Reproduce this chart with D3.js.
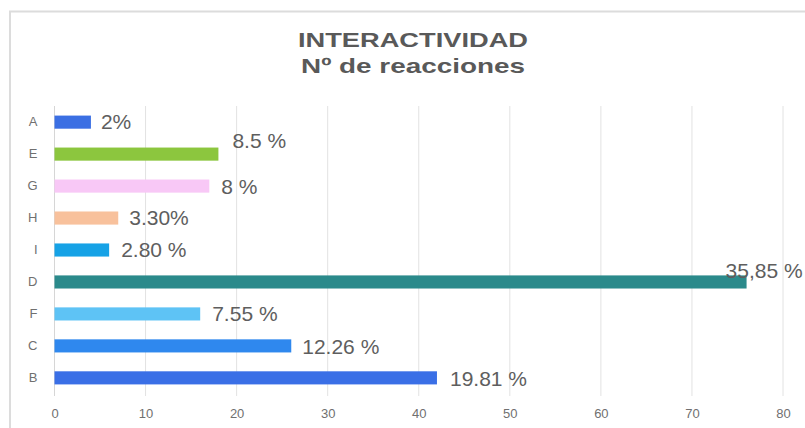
<!DOCTYPE html>
<html>
<head>
<meta charset="utf-8">
<script src="https://cdn.jsdelivr.net/npm/d3@7"></script>
<style>
  body { margin: 0; background: #fff; }
  svg { display: block; font-family: "Liberation Sans", Arial, sans-serif; }
</style>
</head>
<body>
<svg id="chart" width="805" height="428"></svg>
<script>
// data
const categories = ["A", "E", "G", "H", "I", "D", "F", "C", "B"];
const reactions = [4, 18, 17, 7, 6, 76, 16, 26, 42];
const valueLabels = ["2%", "8.5 %", "8 %", "3.30%", "2.80 %", "35,85 %", "7.55 %", "12.26 %", "19.81 %"];
const barColors = ["#3b6fe3", "#8cc63e", "#f8c8f6", "#f8c19c", "#16a2e6", "#2b8a8b", "#5ec3f5", "#2f88ee", "#3a6fe6"];
const xTicks = [0, 10, 20, 30, 40, 50, 60, 70, 80];
const titleLines = ["INTERACTIVIDAD", "Nº de reacciones"];

// label nudges (dx, dy) to mimic the hand-placed labels
const labelNudge = {
  A: [10, 0], E: [14, -13], G: [12, 1], H: [11, 0], I: [12, 0],
  D: [-21, -11], F: [12, 0], C: [11, 1], B: [13, 1]
};

const svg = d3.select("#chart");
const margin = { top: 106, left: 54.5 };
const width = 805, height = 428;

// chart frame
svg.append("path")
  .attr("d", `M10,${height} L10,11.5 L${width},11.5`)
  .attr("fill", "none").attr("stroke", "#dcdcdc").attr("stroke-width", 2);

const x = d3.scaleLinear().domain([0, 80]).range([margin.left, 783]);
const y = d3.scaleBand().domain(categories)
  .range([margin.top, 394]).paddingInner(0.59).paddingOuter(0.3);

// gridlines
svg.append("g").selectAll("line").data(xTicks).join("line")
  .attr("x1", d => x(d)).attr("x2", d => x(d))
  .attr("y1", 106).attr("y2", 396)
  .attr("stroke", d => d === 0 ? "#d6d6d6" : "#e2e2e2").attr("stroke-width", 1);

// x axis labels
const xAxis = svg.append("g")
  .attr("transform", `translate(0,396)`)
  .call(d3.axisBottom(x).tickValues(xTicks).tickSize(0).tickPadding(13));
xAxis.select(".domain").remove();
xAxis.selectAll("text").attr("fill", "#707070").attr("font-size", "13px");

// y axis labels
const yAxis = svg.append("g")
  .attr("transform", `translate(${margin.left - 17},0)`)
  .call(d3.axisLeft(y).tickSize(0).tickPadding(0));
yAxis.select(".domain").remove();
yAxis.selectAll("text").attr("fill", "#707070").attr("font-size", "13px");

// bars
const rows = categories.map((c, i) => ({ cat: c, v: reactions[i], label: valueLabels[i], color: barColors[i] }));
svg.append("g").selectAll("rect").data(rows).join("rect")
  .attr("x", x(0)).attr("y", d => y(d.cat))
  .attr("width", d => x(d.v) - x(0)).attr("height", y.bandwidth())
  .attr("fill", d => d.color);

// value labels
svg.append("g").selectAll("text").data(rows).join("text")
  .attr("x", d => x(d.v) + labelNudge[d.cat][0])
  .attr("y", d => y(d.cat) + y.bandwidth() / 2 + labelNudge[d.cat][1])
  .attr("dy", "0.35em")
  .attr("fill", "#5e5e5e").attr("font-size", "21px")
  .text(d => d.label);

// title (the source is stretched sideways, so fix the run length)
const titleY = [47, 73], titleLen = [230, 224];
svg.append("g").selectAll("text").data(titleLines).join("text")
  .attr("x", 413).attr("y", (d, i) => titleY[i]).attr("text-anchor", "middle")
  .attr("textLength", (d, i) => titleLen[i]).attr("lengthAdjust", "spacingAndGlyphs")
  .attr("fill", "#595959").attr("font-size", "21px").attr("font-weight", "bold")
  .text(d => d);
</script>
</body>
</html>
